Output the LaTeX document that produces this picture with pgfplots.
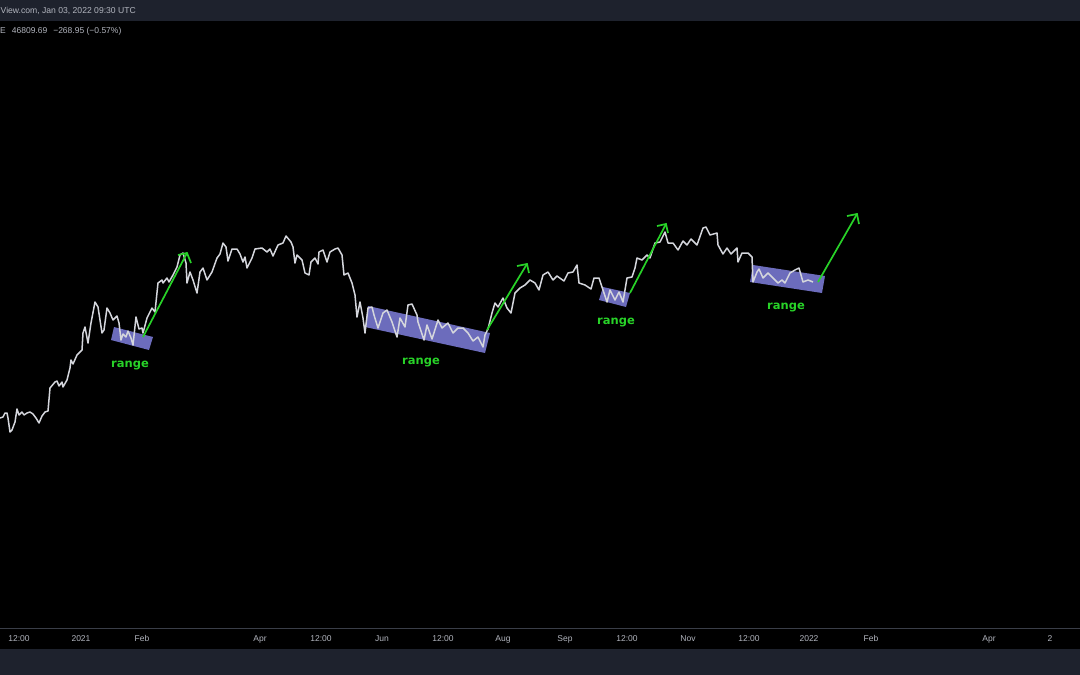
\documentclass[border=0pt]{standalone}
\usepackage{pgfplots}
\usepackage{fontspec}
\setmainfont{Liberation Sans}
\newfontfamily\rangefont{DejaVu Sans}
\pgfplotsset{compat=1.18}
\definecolor{strip}{HTML}{1E222D}
\definecolor{sep}{HTML}{3A3E48}
\definecolor{txt}{HTML}{B2B5BE}
\definecolor{box}{HTML}{6C6CBC}
\definecolor{grn}{HTML}{28D228}
\definecolor{price}{HTML}{D4D6DC}
\begin{document}
\begin{tikzpicture}
\path[use as bounding box] (0,0) rectangle (1080pt,675pt);
\begin{axis}[
  scale only axis, width=1080pt, height=675pt,
  xmin=0, xmax=1080, ymin=0, ymax=675, y dir=reverse,
  axis background/.style={fill=black},
  axis line style={draw=none}, tick style={draw=none},
  ytick=\empty,
  xtick={19,81,142,260,321,382,443,503,565,627,688,749,809,871,989,1050},
  xticklabels={12:00,2021,Feb,Apr,12:00,Jun,12:00,Aug,Sep,12:00,Nov,12:00,2022,Feb,Apr,2},
  xticklabel style={anchor=center, inner sep=0pt, text height=6.5pt, text depth=0pt, yshift=37pt, font=\fontsize{8.5}{10}\selectfont, text=txt},
  xtick pos=lower,
  clip=true,
]
% frame strips
\addplot[draw=none, fill=strip] coordinates {(0,0)(1080,0)(1080,21)(0,21)} -- cycle;
\addplot[draw=none, fill=strip] coordinates {(0,649)(1080,649)(1080,675)(0,675)} -- cycle;
\addplot[sep, line width=1pt] coordinates {(0,628)(1080,628)};
% range boxes
\addplot[draw=none, fill=box] coordinates {(114,327)(153,337)(149,350)(111,340)} -- cycle;
\addplot[draw=none, fill=box] coordinates {(368,306)(490,333)(485,353)(365,327)} -- cycle;
\addplot[draw=none, fill=box] coordinates {(603,287)(630,293)(626,307)(599,300)} -- cycle;
\addplot[draw=none, fill=box] coordinates {(753,265)(825,276)(822,293)(750,282)} -- cycle;
% price line
\addplot[price, line width=1.5pt, line join=round] coordinates {
(0,418)(3,417)(5,413)(7,413)(8,418)(10,432)(12,430)(15,422)(17,409)(19,415)(22,412)(24,415)(27,413)(30,412)(33,414)(36,418)(39,423)(42,416)(45,412)(48,411)(50,388)(55,382)(57,381)(59,386)(62,382)(63,387)(67,380)(70,368)(71,360)(73,364)(77,355)(82,350)(83,333)(85,327)(88,343)(91,323)(95,302)(98,307)(100,320)(102,333)(104,330)(107,308)(110,313)(113,320)(115,318)(117,316)(119,323)(121,340)(123,334)(126,337)(128,331)(131,338)(133,345)(136,317)(139,329)(142,328)(143,333)(147,318)(152,308)(155,312)(158,283)(162,280)(163,283)(167,278)(169,282)(173,275)(177,267)(180,255)(183,253)(186,263)(187,283)(190,272)(193,280)(197,293)(200,272)(203,268)(207,280)(212,272)(217,258)(220,254)(223,243)(226,247)(228,261)(232,249)(237,249)(240,254)(243,262)(245,257)(247,268)(252,258)(255,249)(262,248)(267,252)(270,249)(273,256)(278,245)(283,243)(286,236)(291,242)(293,247)(295,263)(297,255)(302,260)(305,273)(309,275)(311,262)(315,258)(318,264)(319,252)(323,250)(327,262)(330,252)(335,249)(338,248)(342,255)(344,275)(348,273)(352,283)(355,295)(357,317)(360,302)(363,318)(365,333)(368,308)(372,307)(374,315)(378,328)(383,313)(387,310)(392,322)(397,337)(400,318)(405,327)(408,305)(412,304)(417,315)(418,322)(424,340)(427,325)(432,339)(438,320)(442,328)(448,323)(453,333)(458,328)(463,328)(468,333)(473,341)(478,337)(483,347)(485,335)(488,329)(492,313)(495,303)(498,307)(503,298)(507,308)(511,313)(515,293)(520,288)(525,285)(530,280)(535,283)(539,290)(543,275)(548,272)(553,280)(557,276)(564,281)(568,273)(573,272)(577,265)(579,283)(585,285)(591,289)(594,278)(599,278)(603,290)(607,302)(610,290)(615,300)(619,292)(623,302)(627,278)(632,277)(635,268)(637,258)(642,260)(647,255)(650,258)(655,243)(660,242)(665,232)(668,243)(673,243)(678,250)(683,241)(687,245)(691,239)(697,245)(703,228)(706,227)(710,235)(717,233)(718,245)(723,254)(727,248)(731,254)(737,248)(738,262)(742,253)(748,253)(752,257)(753,282)(757,272)(759,269)(763,278)(768,273)(773,278)(778,283)(782,280)(785,283)(790,273)(795,270)(799,268)(803,282)(808,280)(813,282)
};
% arrows
\addplot[grn, line width=1.7pt] coordinates {(143,337)(187,253)};
\addplot[grn, line width=1.7pt] coordinates {(178,255)(187,253)(191,263)};
\addplot[grn, line width=1.7pt] coordinates {(487,330)(527,264)};
\addplot[grn, line width=1.7pt] coordinates {(517,266)(527,264)(529,273)};
\addplot[grn, line width=1.7pt] coordinates {(630,293)(666,224)};
\addplot[grn, line width=1.7pt] coordinates {(657,226)(666,224)(668,233)};
\addplot[grn, line width=1.7pt] coordinates {(818,282)(857,214)};
\addplot[grn, line width=1.7pt] coordinates {(847,216)(857,214)(859,224)};
% texts
\node[anchor=center, inner sep=0pt, text=grn, font=\rangefont\bfseries\fontsize{11.5}{13}\selectfont] at (axis cs:130,366) {range};
\node[anchor=center, inner sep=0pt, text=grn, font=\rangefont\bfseries\fontsize{11.5}{13}\selectfont] at (axis cs:421,363) {range};
\node[anchor=center, inner sep=0pt, text=grn, font=\rangefont\bfseries\fontsize{11.5}{13}\selectfont] at (axis cs:616,323) {range};
\node[anchor=center, inner sep=0pt, text=grn, font=\rangefont\bfseries\fontsize{11.5}{13}\selectfont] at (axis cs:786,308) {range};
\node[anchor=west, inner sep=0pt, text=txt, font=\fontsize{8.6}{11}\selectfont] at (axis cs:0.5,10.5) {View.com, Jan 03, 2022 09:30 UTC};
\node[anchor=west, inner sep=0pt, text=txt, font=\fontsize{8.5}{10}\selectfont] at (axis cs:0,31) {E\hspace{6pt}46809.69\hspace{6pt}−268.95 (−0.57\%)};
\end{axis}
\end{tikzpicture}
\end{document}
